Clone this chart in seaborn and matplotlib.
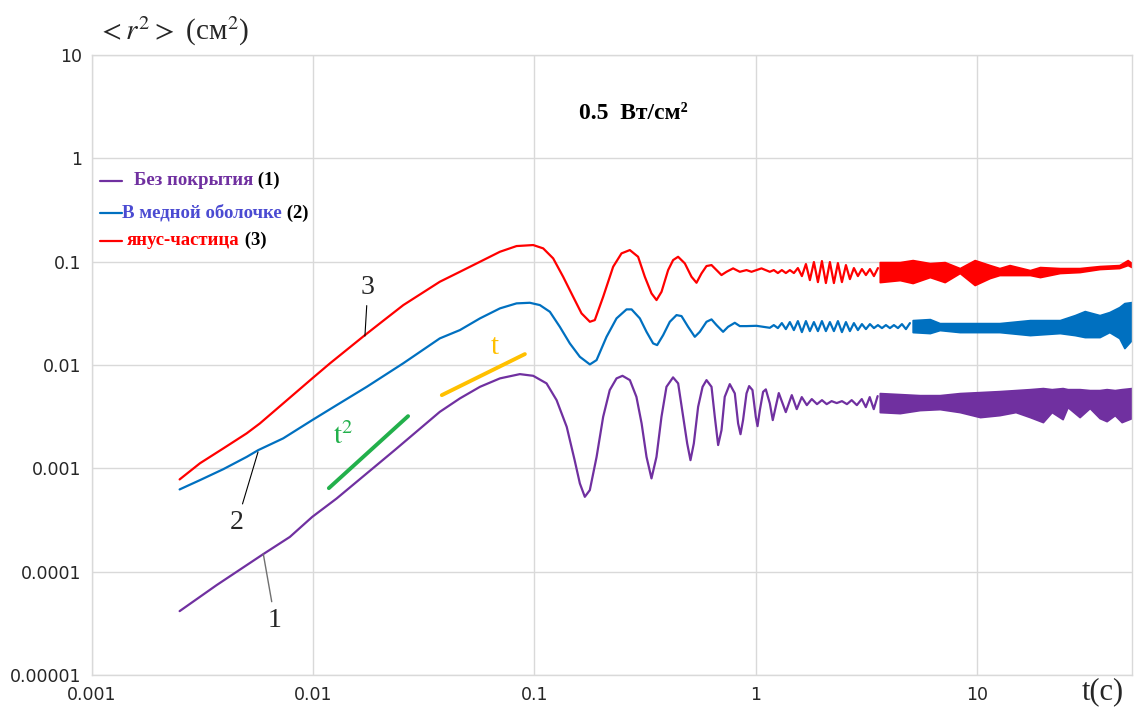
import matplotlib
matplotlib.use("Agg")
import matplotlib.pyplot as plt
import numpy as np
import pandas as pd
import seaborn as sns

# ---------------- data ----------------
# curve 1: uncoated particle (purple)
t1 = [0.0025, 0.00367, 0.00597, 0.00787, 0.00993, 0.0128, 0.0175, 0.0234,
      0.0374, 0.0461, 0.0568, 0.0699, 0.0860, 0.0988, 0.1135, 0.126, 0.140, 0.152,
      0.1605, 0.169, 0.178, 0.191, 0.2045, 0.219, 0.235, 0.250, 0.270, 0.289, 0.305,
      0.321, 0.338, 0.356, 0.375, 0.395, 0.423, 0.446, 0.470, 0.490, 0.507, 0.525,
      0.549, 0.575, 0.599, 0.631, 0.653, 0.676, 0.700, 0.724, 0.763, 0.804, 0.832,
      0.853, 0.876, 0.908, 0.933, 0.966, 1.000, 1.018, 1.043, 1.079, 1.110, 1.157,
      1.193, 1.270, 1.366, 1.454, 1.531, 1.613,
      1.70, 1.79, 1.89, 1.99, 2.09, 2.20, 2.32, 2.45, 2.58, 2.71, 2.86, 3.01, 3.14,
      3.27, 3.41, 3.55]
r1 = [4.15e-5, 7.40e-5, 1.48e-4, 2.17e-4, 3.39e-4, 5.11e-4, 8.93e-4, 1.50e-3,
      3.52e-3, 4.75e-3, 6.15e-3, 7.42e-3, 8.16e-3, 7.86e-3, 6.64e-3, 4.57e-3, 2.52e-3,
      1.20e-3, 7.14e-4, 5.30e-4, 6.15e-4, 1.29e-3, 3.15e-3, 5.72e-3, 7.42e-3, 7.86e-3,
      7.14e-3, 4.92e-3, 2.72e-3, 1.29e-3, 7.99e-4, 1.29e-3, 3.15e-3, 6.15e-3, 7.59e-3,
      6.64e-3, 3.15e-3, 1.74e-3, 1.20e-3, 1.74e-3, 3.94e-3, 6.15e-3, 7.14e-3, 6.15e-3,
      3.15e-3, 1.68e-3, 2.34e-3, 4.92e-3, 6.53e-3, 5.31e-3, 2.72e-3, 2.14e-3, 2.93e-3,
      5.31e-3, 6.25e-3, 5.72e-3, 3.15e-3, 2.56e-3, 3.66e-3, 5.50e-3, 5.81e-3, 4.25e-3,
      2.93e-3, 5.35e-3, 3.50e-3, 5.11e-3, 3.74e-3, 4.89e-3,
      4.09e-3, 4.68e-3, 4.18e-3, 4.57e-3, 4.18e-3, 4.47e-3, 4.28e-3, 4.47e-3, 4.18e-3,
      4.57e-3, 4.09e-3, 4.68e-3, 3.91e-3, 4.89e-3, 3.74e-3, 5.00e-3]
# dense oscillation band of curve 1 (envelope)
t1_band = [3.63, 4.47, 5.50, 6.77, 8.34, 10.3, 12.6, 14.9, 17.3, 19.8, 21.7, 24.3,
           25.6, 29.0, 32.2, 35.7, 38.4, 41.8, 44.9, 49.8]
r1_hi = [5.35e-3, 5.23e-3, 5.11e-3, 5.11e-3, 5.35e-3, 5.47e-3, 5.59e-3, 5.72e-3,
         5.84e-3, 5.98e-3, 5.84e-3, 5.98e-3, 5.84e-3, 5.84e-3, 5.72e-3, 5.72e-3,
         5.84e-3, 5.72e-3, 5.84e-3, 5.98e-3]
r1_lo = [3.50e-3, 3.42e-3, 3.66e-3, 3.74e-3, 3.50e-3, 3.13e-3, 3.27e-3, 3.50e-3,
         3.13e-3, 2.80e-3, 3.50e-3, 2.99e-3, 3.91e-3, 3.13e-3, 3.83e-3, 3.06e-3,
         2.86e-3, 3.27e-3, 2.80e-3, 3.06e-3]

# curve 2: copper shell (blue)
t2 = [0.0025, 0.00309, 0.00394, 0.00502, 0.00566, 0.00734, 0.00993, 0.0128, 0.0175,
      0.0256, 0.0374, 0.0461, 0.0568, 0.0699, 0.0831, 0.0954, 0.1059, 0.1175, 0.1303,
      0.1446, 0.1605, 0.1781, 0.1909, 0.2118, 0.2350, 0.2608, 0.2748, 0.2995, 0.3210,
      0.3438, 0.3585, 0.3816, 0.4090, 0.4385, 0.4619, 0.4946, 0.5304, 0.5587, 0.5989,
      0.6310, 0.6648, 0.7118, 0.7497, 0.8038, 0.8469, 0.9079, 1.007, 1.157,
      1.206, 1.258, 1.311, 1.367, 1.425, 1.486, 1.549, 1.615, 1.684, 1.755, 1.830,
      1.908, 1.989, 2.073, 2.161, 2.253, 2.349, 2.449, 2.553, 2.661, 2.774, 2.892,
      3.015, 3.143, 3.277, 3.416, 3.561, 3.713, 3.870, 4.035, 4.206, 4.385, 4.571,
      4.765, 4.968]
r2 = [6.25e-4, 7.69e-4, 9.82e-4, 1.29e-3, 1.50e-3, 1.95e-3, 2.93e-3, 4.09e-3, 6.15e-3,
      1.04e-2, 0.01809, 0.02177, 0.02826, 0.03531, 0.03948, 0.04001, 0.03801, 0.03273,
      0.02343, 0.01618, 0.01200, 0.01013, 0.01115, 0.01874, 0.02826, 0.03453, 0.03453,
      0.02826, 0.02095, 0.01618, 0.01558, 0.01946, 0.02619, 0.03041, 0.02974, 0.02343,
      0.01874, 0.02095, 0.02619, 0.02763, 0.02433, 0.02095, 0.02343, 0.02561, 0.02379,
      0.02379, 0.02395, 0.02291,
      0.02433, 0.02276, 0.02544, 0.02225, 0.02602, 0.02177, 0.02660, 0.02081, 0.02660,
      0.02128, 0.02602, 0.02128, 0.02660, 0.02128, 0.02602, 0.02128, 0.02660, 0.02081,
      0.02602, 0.02128, 0.02544, 0.02177, 0.02488, 0.02225, 0.02488, 0.02276, 0.02433,
      0.02276, 0.02433, 0.02276, 0.02433, 0.02276, 0.02488, 0.02225, 0.02544]
t2_band = [5.11, 6.11, 6.77, 8.34, 12.6, 17.3, 23.6, 27.6, 30.6, 35.7, 39.5, 43.8,
           46.2, 49.8]
r2_hi = [0.02720, 0.02782, 0.02544, 0.02544, 0.02544, 0.02720, 0.02720, 0.03041,
         0.03325, 0.03041, 0.03252, 0.03635, 0.03974, 0.04064]
r2_lo = [0.02081, 0.02035, 0.02177, 0.02081, 0.02081, 0.01946, 0.02035, 0.01946,
         0.01862, 0.01862, 0.02081, 0.01821, 0.01457, 0.01742]

# curve 3: Janus particle (red)
t3 = [0.0025, 0.00309, 0.00394, 0.00502, 0.00576, 0.00734, 0.00993, 0.01193, 0.01717,
      0.02077, 0.0256,
      0.0374, 0.0461, 0.0568, 0.0699, 0.0831, 0.0988, 0.1096, 0.1216, 0.1349, 0.1497,
      0.1633, 0.1781, 0.1875, 0.2045, 0.2269, 0.2475, 0.2699, 0.2941, 0.3154, 0.3381,
      0.3562, 0.3752, 0.4019, 0.4233, 0.4458, 0.4780, 0.5125, 0.5398, 0.5686, 0.5989,
      0.6310, 0.6648, 0.6999, 0.7375, 0.7897, 0.8469, 0.9079, 0.9563, 1.007, 1.061,
      1.157,
      1.206, 1.258, 1.311, 1.367, 1.425, 1.486, 1.549, 1.615, 1.684, 1.755, 1.830,
      1.908, 1.989, 2.073, 2.161, 2.253, 2.349, 2.449, 2.553, 2.661, 2.774, 2.892,
      3.015, 3.143, 3.277, 3.416, 3.561]
r3 = [7.81e-4, 1.12e-3, 1.56e-3, 2.18e-3, 2.72e-3, 4.25e-3, 7.42e-3, 1.036e-2, 1.946e-2,
      2.68e-2, 3.80e-2,
      0.0639, 0.0798, 0.0998, 0.1247, 0.1416, 0.1448, 0.1345, 0.1076, 0.0714, 0.0457,
      0.0316, 0.0262, 0.0272, 0.0457, 0.0893, 0.1203, 0.1295, 0.1115, 0.0714, 0.0493,
      0.0425, 0.0511, 0.0829, 0.1036, 0.1115, 0.0963, 0.0714, 0.0625, 0.0770, 0.0907,
      0.0927, 0.0829, 0.0742, 0.0798, 0.0861, 0.0798, 0.0829, 0.0798, 0.0829, 0.0861,
      0.0798,
      0.0829, 0.0776, 0.0829, 0.0776, 0.0829, 0.0776, 0.0867, 0.0725, 0.0948, 0.0663,
      0.0991, 0.0634, 0.1013, 0.0621, 0.0991, 0.0621, 0.0969, 0.0634, 0.0927, 0.0678,
      0.0867, 0.0725, 0.0848, 0.0742, 0.0848, 0.0725, 0.0867]
t3_band = [3.63, 4.47, 5.11, 6.11, 7.13, 8.34, 9.74, 11.4, 12.6, 14.0, 17.3, 19.2,
           23.6, 29.0, 35.7, 43.8, 47.8, 49.8]
r3_hi = [0.0991, 0.0991, 0.1036, 0.0969, 0.0991, 0.0867, 0.1036, 0.0927, 0.0867,
         0.0927, 0.0829, 0.0887, 0.0867, 0.0867, 0.0907, 0.0927, 0.1036, 0.0969]
r3_lo = [0.0634, 0.0663, 0.0621, 0.0709, 0.0634, 0.0776, 0.0594, 0.0694, 0.0742,
         0.0742, 0.0742, 0.0709, 0.0776, 0.0793, 0.0848, 0.0867, 0.0927, 0.0887]

# slope guides
guide_t2_t = [0.0118, 0.0269]
guide_t2_r = [6.43e-4, 3.20e-3]
guide_t1_t = [0.0382, 0.0906]
guide_t1_r = [5.11e-3, 0.01275]

x_ticks = [0.001, 0.01, 0.1, 1, 10]
x_labels = ["0.001", "0.01", "0.1", "1", "10"]
y_ticks = [1e-5, 1e-4, 1e-3, 1e-2, 1e-1, 1, 10]
y_labels = ["0.00001", "0.0001", "0.001", "0.01", "0.1", "1", "10"]

names = ["Без покрытия", "В медной оболочке", "янус-частица"]
tags = [" (1)", " (2)", " (3)"]
line_colors = ["#7030A0", "#0070C0", "#FF0000"]
text_colors = ["#7030A0", "#4B4BD2", "#FF0000"]
GREEN = "#22B04B"
GOLD = "#FFC000"

# ---------------- drawing ----------------
sns.set_theme(style="white")
plt.rcParams["font.family"] = ["DejaVu Sans"]
plt.rcParams["mathtext.fontset"] = "stix"
SERIF = ["Liberation Serif", "DejaVu Serif"]

W, H = 1144, 713
fig = plt.figure(figsize=(W / 100, H / 100), dpi=100)
L, R, T, B = 91.5, 1132, 55, 675
ax = fig.add_axes([L / W, 1 - B / H, (R - L) / W, (B - T) / H])
ax.set_xscale("log")
ax.set_yscale("log")

curves = [(t1, r1, t1_band, r1_lo, r1_hi), (t2, r2, t2_band, r2_lo, r2_hi),
          (t3, r3, t3_band, r3_lo, r3_hi)]
for (tt, rr, tb, lo, hi), c in zip(curves, line_colors):
    df = pd.DataFrame({"t": tt, "r2": rr})
    sns.lineplot(data=df, x="t", y="r2", ax=ax, color=c, lw=1.6, sort=False,
                 estimator=None, legend=False)
    ax.fill_between(tb, lo, hi, color=c, lw=1.2, edgecolor=c)

sns.lineplot(x=guide_t2_t, y=guide_t2_r, ax=ax, color=GREEN, lw=2.8,
             estimator=None, legend=False)
sns.lineplot(x=guide_t1_t, y=guide_t1_r, ax=ax, color=GOLD, lw=2.8,
             estimator=None, legend=False)

ax.set_xlim(1e-3, 50)
ax.set_ylim(1e-5, 10)
ax.set_xticks(x_ticks)
ax.set_xticklabels(x_labels)
ax.set_yticks(y_ticks)
ax.set_yticklabels(y_labels)
ax.minorticks_off()
ax.tick_params(axis="both", length=0, labelsize=12.5, colors="#262626")
ax.tick_params(axis="y", pad=7)
ax.tick_params(axis="x", pad=8)
ax.grid(True, which="major", color="#D9D9D9", lw=1.0)
for s in ax.spines.values():
    s.set_color("#D9D9D9")
    s.set_linewidth(1.0)
ax.set_xlabel("")
ax.set_ylabel("")

# curve labels with leader lines
ax.annotate("3", xy=(0.01717, 0.01905), xytext=(0.0177, 0.0568), fontsize=20,
            family=SERIF, ha="center", va="center",
            arrowprops=dict(arrowstyle="-", color="black", lw=0.8, shrinkA=2, shrinkB=0))
ax.annotate("2", xy=(0.00565, 1.44e-3), xytext=(0.00454, 3.0e-4), fontsize=20,
            family=SERIF, ha="center", va="center",
            arrowprops=dict(arrowstyle="-", color="black", lw=0.8, shrinkA=2, shrinkB=0))
ax.annotate("1", xy=(0.00597, 1.48e-4), xytext=(0.00674, 3.39e-5), fontsize=20,
            family=SERIF, ha="center", va="center",
            arrowprops=dict(arrowstyle="-", color="#707070", lw=1.0, shrinkA=2, shrinkB=0))

ax.text(0.01366, 2.05e-3, r"$\mathrm{t}^{2}$", color=GREEN, fontsize=21,
        ha="center", va="center")
ax.text(0.0663, 0.0149, "t", color=GOLD, fontsize=21, family=SERIF,
        ha="center", va="center")

# legend (manual, two-coloured text)
leg_y = [0.797, 0.745, 0.700]
leg_tx = [0.0408, 0.0293, 0.0341]
for name, tag, lc, tc, yy, tx in zip(names, tags, line_colors, text_colors, leg_y, leg_tx):
    ax.plot([0.0082, 0.0295], [yy, yy], color=lc, lw=1.6, transform=ax.transAxes)
    t_obj = ax.text(tx, yy, name, color=tc, fontsize=13.5, family=SERIF,
                    weight="bold", transform=ax.transAxes, va="center", ha="left")
    ax.annotate(tag, xy=(1, 0), xycoords=t_obj, va="bottom", ha="left",
                color="black", fontsize=13.5, family=SERIF, weight="bold")

ax.text(0.521, 0.906, "0.5  Вт/см²", fontsize=17, family=SERIF, weight="bold",
        ha="center", va="center", transform=ax.transAxes, color="black")

# axis titles
fig.text(97 / W, 1 - 31 / H, r"$<\mathit{r}^{2}>$ (см$^{2}$)", fontsize=21,
         family=SERIF, ha="left", va="center")
fig.text(1103 / W, 1 - 692 / H, "t(c)", fontsize=22, family=SERIF,
         ha="center", va="center")

fig.savefig("out.png", dpi=100, facecolor="white")
